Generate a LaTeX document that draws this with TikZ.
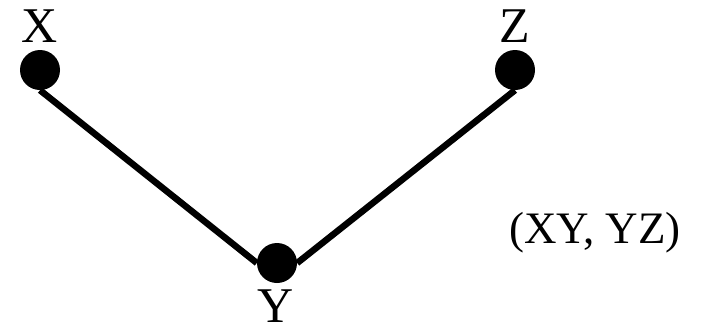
\documentclass[tikz,border=0pt]{standalone}
\usepackage{fontspec}
\setmainfont{Liberation Serif}
\pgfdeclarelayer{background}
\pgfsetlayers{background,main}
\begin{document}
\begin{tikzpicture}[x=1pt,y=-1pt,
  dot/.style={circle,fill=black,inner sep=0pt,minimum size=40pt},
  lbl/.style={font=\fontsize{50}{50}\selectfont,inner sep=0pt,anchor=base,text depth=0pt},
  edge/.style={line width=6.5pt}]
\useasboundingbox (0,0) rectangle (706,333);
\node[dot] (X) at (40,70) {};
\node[dot] (Z) at (515,70) {};
\node[dot] (Y) at (277,263) {};
\node[lbl] (lx) at (40,42) {X};
\node[lbl] (lz) at (515,42) {Z};
\node[lbl] (ly) at (276,322) {Y};
\node[font=\fontsize{45}{45}\selectfont,inner sep=0pt,anchor=base] (pair) at (595,243) {(XY, YZ)};
\begin{pgfonlayer}{background}
\draw[edge] (X.south) -- (Y.west);
\draw[edge] (Y.east) -- (Z.south);
\end{pgfonlayer}
\end{tikzpicture}
\end{document}
